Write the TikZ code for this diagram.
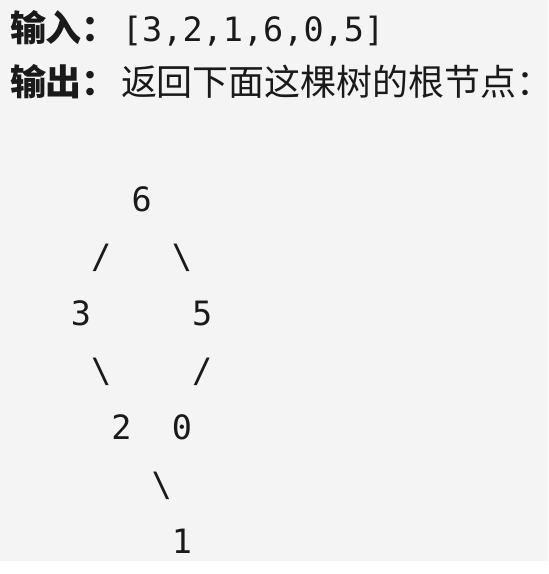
\documentclass[tikz,border=0pt]{standalone}
\usepackage{fontspec}
\newfontfamily\cjk{Noto Sans CJK SC}
\newfontfamily\monof{DejaVu Sans Mono}
\definecolor{bgc}{HTML}{F4F4F4}
\definecolor{ink}{HTML}{1A1A1A}
\begin{document}
\begin{tikzpicture}[x=1pt,y=-1pt,
  txt/.style={inner sep=0pt,outer sep=0pt,text=ink},
  lbl/.style={txt,anchor=base west,font=\cjk\bfseries\fontsize{36}{40}\selectfont},
  cjkt/.style={txt,anchor=base west,font=\cjk\fontsize{36}{40}\selectfont},
  mono/.style={txt,anchor=base west,font=\monof\fontsize{33.5}{40}\selectfont},
  tch/.style={txt,anchor=base,font=\monof\fontsize{33.5}{40}\selectfont}]
\useasboundingbox (0,0) rectangle (549,574);
\fill[white] (0,0) rectangle (549,574);
\fill[bgc] (0,0) rectangle (548,561);
% header lines
\node[lbl] (in) at (10,41) {输入：};
\node[mono] (arr) at ([xshift=4pt]in.base east) {[3,2,1,6,0,5]};
\node[lbl] (out) at (10,95) {输出：};
\node[cjkt] (desc) at ([xshift=3pt]out.base east) {返回下面这棵树的根节点\makebox[9pt][l]{：}};
% tree
\node[tch] (n6) at (141.6,211) {6};
\node[tch] (s1) at (101.2,268.1) {/};
\node[tch] (s2) at (182,268.1) {\textbackslash};
\node[tch] (n3) at (81,325.2) {3};
\node[tch] (n5) at (202.2,325.2) {5};
\node[tch] (s3) at (101.2,382.3) {\textbackslash};
\node[tch] (s4) at (202.2,382.3) {/};
\node[tch] (n2) at (121.4,439.4) {2};
\node[tch] (n0) at (182,439.4) {0};
\node[tch] (s5) at (161.8,496.5) {\textbackslash};
\node[tch] (n1) at (182,553.6) {1};
\end{tikzpicture}
\end{document}
